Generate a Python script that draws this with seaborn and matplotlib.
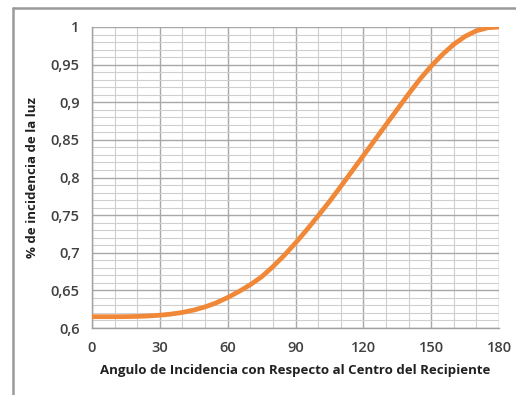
import numpy as np
import pandas as pd
import seaborn as sns
import matplotlib
matplotlib.use("Agg")
import matplotlib.pyplot as plt
from matplotlib.ticker import MultipleLocator, FuncFormatter
from matplotlib.lines import Line2D

# Angle of incidence (degrees) and fraction of incident light
angulo = [0, 5, 10, 15, 20, 25, 30, 35, 40, 45, 50, 55, 60, 65, 70, 75, 80, 85, 90,
          95, 100, 105, 110, 115, 120, 125, 130, 135, 140, 145, 150, 155, 160,
          165, 170, 175, 180]
incidencia = [0.615, 0.615, 0.615, 0.6151, 0.6154, 0.616, 0.617, 0.6185, 0.6207,
              0.6238, 0.628, 0.6335, 0.6405, 0.6485, 0.6575, 0.668, 0.6815, 0.6965,
              0.713, 0.7305, 0.749, 0.768, 0.788, 0.8085, 0.829, 0.8495, 0.870,
              0.8905, 0.911, 0.9305, 0.948, 0.9635, 0.977, 0.9875, 0.995, 0.999, 1.0]
x_ticks = [0, 30, 60, 90, 120, 150, 180]
y_ticks = [0.6, 0.65, 0.7, 0.75, 0.8, 0.85, 0.9, 0.95, 1.0]

df = pd.DataFrame({"angulo": angulo, "incidencia": incidencia})

sns.set_style("white")
plt.rcParams["font.family"] = ["Open Sans", "DejaVu Sans"]

W, H = 516, 395
fig = plt.figure(figsize=(W / 100, H / 100), dpi=100)
fig.patch.set_facecolor("white")
ax = fig.add_axes([92 / W, (H - 328) / H, (499 - 92) / W, (328 - 27) / H])

sns.lineplot(data=df, x="angulo", y="incidencia", ax=ax, color="#F08838",
             linewidth=3.4, zorder=5, solid_capstyle="butt",
             solid_joinstyle="round")

ax.set_xlim(0, 180)
ax.set_ylim(0.6, 1.0)
ax.set_xticks(x_ticks)
ax.set_yticks(y_ticks)
ax.xaxis.set_minor_locator(MultipleLocator(10))
ax.yaxis.set_minor_locator(MultipleLocator(0.01))

def coma(v, pos):
    s = f"{v:.2f}".rstrip("0").rstrip(".")
    return s.replace(".", ",")

ax.yaxis.set_major_formatter(FuncFormatter(coma))

ax.grid(which="major", color="#a8a8a8", linewidth=1.0)
ax.grid(which="minor", color="#cfcfcf", linewidth=0.8)
ax.set_axisbelow(True)

for side in ["top", "right"]:
    ax.spines[side].set_visible(False)
for side in ["left", "bottom"]:
    ax.spines[side].set_color("#a0a0a0")
    ax.spines[side].set_linewidth(1.0)

ax.tick_params(axis="both", which="major", direction="out", length=5, width=1,
               color="#a0a0a0", labelsize=10.5, labelcolor="#404040", pad=4)
ax.tick_params(axis="both", which="minor", length=0)
for lbl in ax.get_xticklabels() + ax.get_yticklabels():
    lbl.set_fontweight("semibold")

ax.set_xlabel("Angulo de Incidencia con Respecto al Centro del Recipiente",
              fontsize=9.5, fontweight="bold", color="#202020", labelpad=7)
ax.set_ylabel("% de incidencia de la luz", fontsize=9.5, fontweight="bold",
              color="#202020", labelpad=8)

# Outer chart frame
fig.add_artist(Line2D([13 / W, 13 / W], [0, (H - 8) / H], transform=fig.transFigure,
                      color="#9a9a9a", linewidth=1.8))
fig.add_artist(Line2D([13 / W, 1], [(H - 8) / H, (H - 8) / H], transform=fig.transFigure,
                      color="#9a9a9a", linewidth=1.8))

fig.savefig("out.png", dpi=100)
